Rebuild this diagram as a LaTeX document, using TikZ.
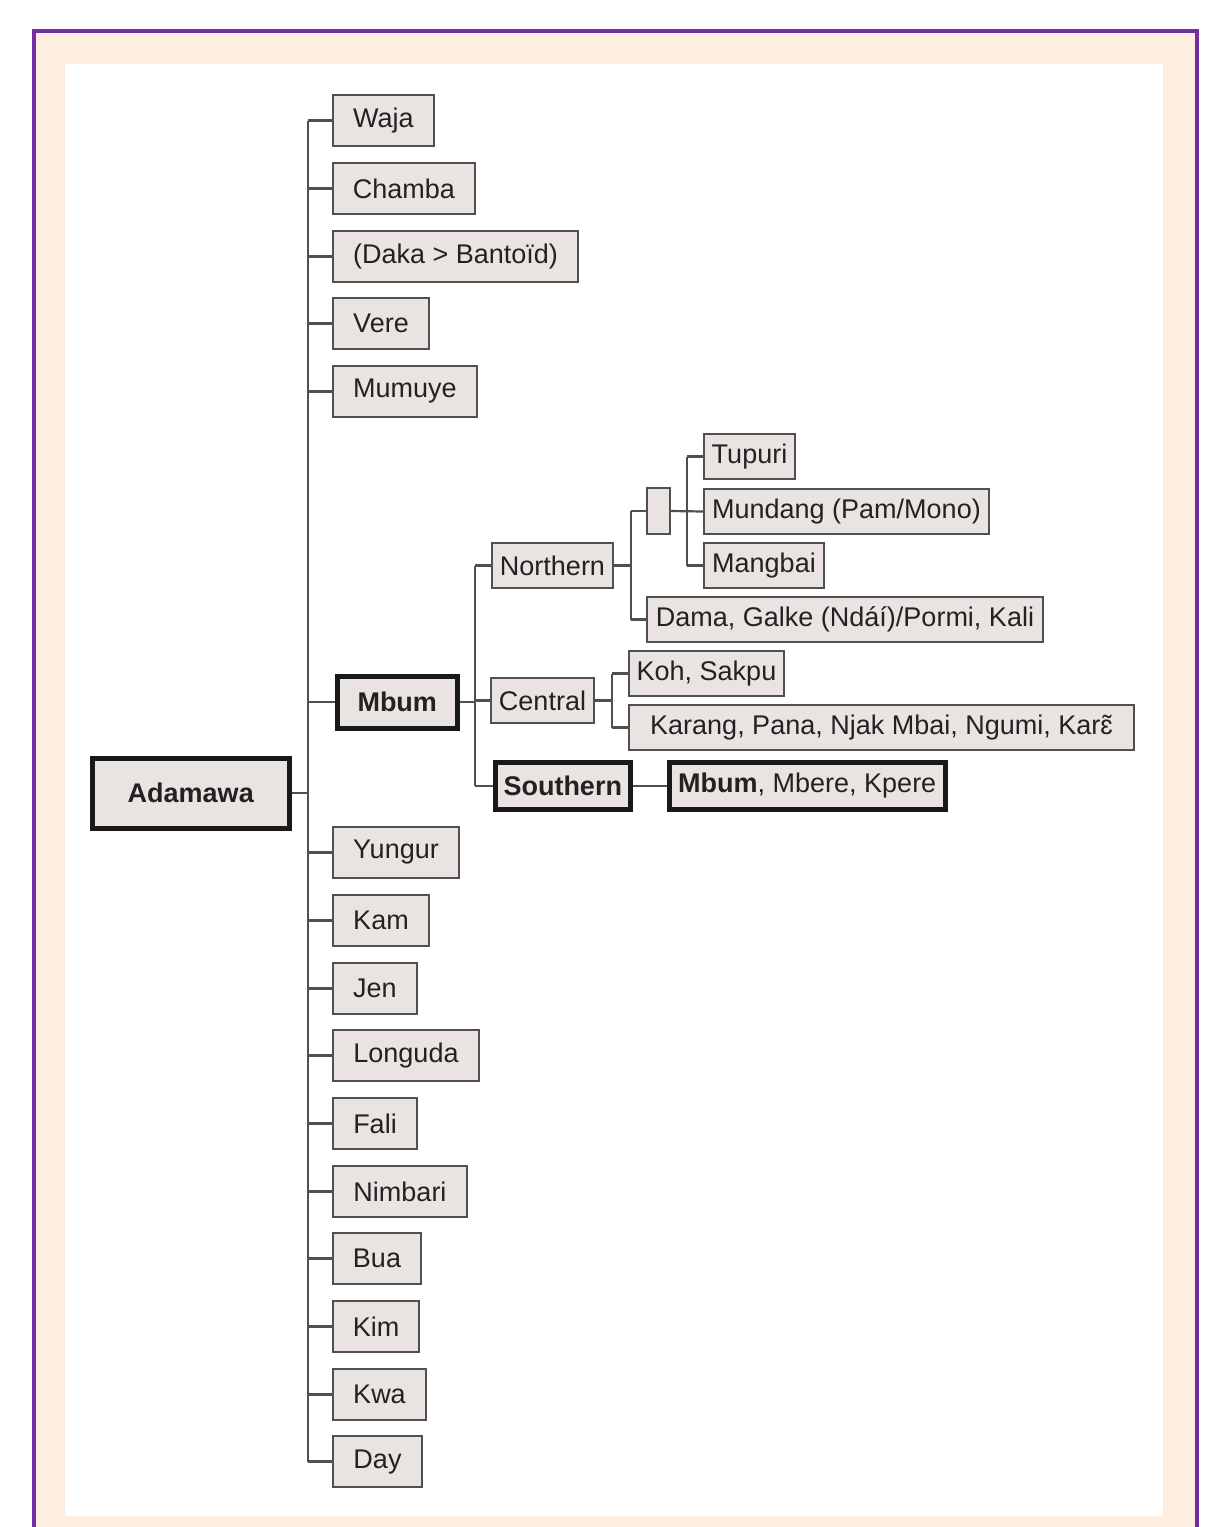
\documentclass[tikz,border=0pt]{standalone}
\usepackage{fontspec}
\setmainfont{Liberation Sans}
\usetikzlibrary{positioning}

\definecolor{framepurple}{RGB}{112,48,160}
\definecolor{cream}{RGB}{253,238,225}
\definecolor{boxfill}{RGB}{233,227,225}
\definecolor{boxline}{RGB}{80,80,80}
\definecolor{inkgray}{RGB}{34,34,34}

\begin{document}
\begin{tikzpicture}[
  x=1pt,y=-1pt,
  every node/.style={font=\fontsize{27}{32}\selectfont,text=inkgray},
  langbox/.style={draw=boxline,line width=2,fill=boxfill,anchor=north west,
    inner sep=0,minimum height=51,align=center},
  keybox/.style={langbox,draw=black!90,line width=4.5,font=\fontsize{27}{32}\selectfont\bfseries},
  link/.style={draw=boxline,line width=2.2}
]
  \useasboundingbox (0,0) rectangle (1218,1527);
  \fill[cream] (34,31) rectangle (1197,1527);
  \fill[white] (65,64) rectangle (1163,1516);
  \draw[framepurple,line width=4.5] (34,1527) -- (34,31) -- (1197,31) -- (1197,1527);

  % root
  \node[keybox,minimum width=197,minimum height=70] (adamawa) at (90,756) {Adamawa};

  % first level
  \node[langbox,minimum width=101] (waja) at (332,94) {Waja};
  \node[langbox,minimum width=142] (chamba) at (332,162) {Chamba};
  \node[langbox,minimum width=245] (daka) at (332,230) {(Daka > Bantoïd)};
  \node[langbox,minimum width=96] (vere) at (332,297) {Vere};
  \node[langbox,minimum width=144] (mumuye) at (332,365) {Mumuye};
  \node[keybox,minimum width=120,minimum height=52] (mbum) at (335,674) {Mbum};
  \node[langbox,minimum width=126] (yungur) at (332,826) {Yungur};
  \node[langbox,minimum width=96] (kam) at (332,894) {Kam};
  \node[langbox,minimum width=84] (jen) at (332,962) {Jen};
  \node[langbox,minimum width=146] (longuda) at (332,1029) {Longuda};
  \node[langbox,minimum width=84] (fali) at (332,1097) {Fali};
  \node[langbox,minimum width=134] (nimbari) at (332,1165) {Nimbari};
  \node[langbox,minimum width=88] (bua) at (332,1232) {Bua};
  \node[langbox,minimum width=86] (kim) at (332,1300) {Kim};
  \node[langbox,minimum width=93] (kwa) at (332,1368) {Kwa};
  \node[langbox,minimum width=89] (day) at (332,1435) {Day};

  % Mbum branches
  \node[langbox,minimum width=121,minimum height=45] (northern) at (491,542) {Northern};
  \node[langbox,minimum width=103,minimum height=45] (central) at (490,677) {Central};
  \node[keybox,minimum width=135,minimum height=47] (southern) at (493,760) {Southern};
  \node[keybox,minimum width=276,minimum height=47,font=\fontsize{27}{32}\selectfont] (mbumsouth) at (667,760) {\textbf{Mbum}, Mbere, Kpere};

  % Northern
  \node[langbox,minimum width=23,minimum height=46] (unnamed) at (646,487) {};
  \node[langbox,minimum width=91,minimum height=45] (tupuri) at (703,433) {Tupuri};
  \node[langbox,minimum width=285,minimum height=45] (mundang) at (703,488) {Mundang (Pam/Mono)};
  \node[langbox,minimum width=120,minimum height=45] (mangbai) at (703,542) {Mangbai};
  \node[langbox,minimum width=396,minimum height=45] (dama) at (646,596) {Dama, Galke (Ndáí)/Pormi, Kali};

  % Central
  \node[langbox,minimum width=155,minimum height=45] (koh) at (628,650) {Koh, Sakpu};
  \node[langbox,minimum width=505,minimum height=45] (karang) at (628,704) {Karang, Pana, Njak Mbai, Ngumi, Karɛ̃};

  % connectors
  \coordinate (trunk) at (308,0);
  \coordinate (mbumfork) at (475,0);
  \coordinate (northfork) at (631,0);
  \coordinate (subfork) at (687,0);
  \coordinate (centralfork) at (612,0);

  \draw[link] (waja.west -| trunk) -- (day.west -| trunk);
  \draw[link] (adamawa.east) -- (adamawa.east -| trunk);
  \foreach \leaf in {waja,chamba,daka,vere,mumuye,mbum,yungur,kam,jen,longuda,fali,nimbari,bua,kim,kwa,day}
    \draw[link] (\leaf.west -| trunk) -- (\leaf.west);

  \draw[link] (northern.west -| mbumfork) -- (southern.west -| mbumfork);
  \draw[link] (mbum.east) -- (mbum.east -| mbumfork);
  \draw[link] (northern.west -| mbumfork) -- (northern.west);
  \draw[link] (central.west -| mbumfork) -- (central.west);
  \draw[link] (southern.west -| mbumfork) -- (southern.west);
  \draw[link] (southern.east) -- (mbumsouth.west);

  \draw[link] (northern.east) -- (northern.east -| northfork);
  \draw[link] (unnamed.west -| northfork) -- (dama.west -| northfork);
  \draw[link] (unnamed.west -| northfork) -- (unnamed.west);
  \draw[link] (dama.west -| northfork) -- (dama.west);

  \draw[link] (unnamed.east) -- (mundang.west);
  \draw[link] (tupuri.west -| subfork) -- (mangbai.west -| subfork);
  \draw[link] (tupuri.west -| subfork) -- (tupuri.west);
  \draw[link] (mangbai.west -| subfork) -- (mangbai.west);

  \draw[link] (central.east) -- (central.east -| centralfork);
  \draw[link] (koh.west -| centralfork) -- (karang.west -| centralfork);
  \draw[link] (koh.west -| centralfork) -- (koh.west);
  \draw[link] (karang.west -| centralfork) -- (karang.west);
\end{tikzpicture}
\end{document}
